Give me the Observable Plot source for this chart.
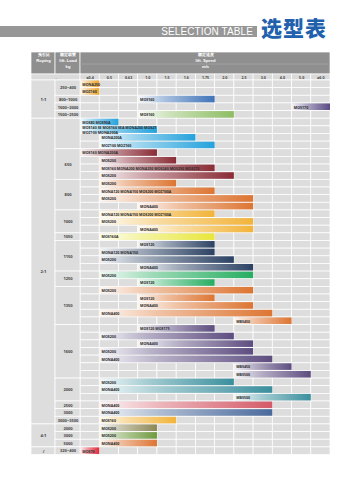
<!DOCTYPE html>
<html><head><meta charset="utf-8">
<script src="https://cdn.jsdelivr.net/npm/d3@7"></script>
<script src="https://cdn.jsdelivr.net/npm/@observablehq/plot@0.6"></script>
<style>
body{margin:0;background:#fff;font-family:"Liberation Sans",Arial,sans-serif;}
#wrap{position:relative;width:353px;height:480px;overflow:hidden;}
#band{position:absolute;left:0;top:26px;width:257px;height:11px;background:#979797;color:#fff;font-size:10px;line-height:11px;text-align:right;box-sizing:border-box;padding-right:4px;letter-spacing:0.1px;}
#cn{position:absolute;left:261px;top:15px;font-family:"Noto Sans CJK SC",sans-serif;font-weight:900;font-size:21px;line-height:24px;color:#2160ad;letter-spacing:1px;}
#chart{position:absolute;left:0;top:0;}
</style></head>
<body><div id="wrap">
<div id="chart"></div>
<div id="band">SELECTION TABLE</div>
<div id="cn">选型表</div>
</div>
<script>
const speeds = ["≤0.4","0.5","0.63","1.0","1.5","1.6","1.75","2.0","2.5","3.0","4.0","5.0","≥6.0"];
const ropings = ["1:1","1:1","1:1","1:1","1:1",
  "2:1","2:1","2:1","2:1","2:1","2:1","2:1","2:1","2:1","2:1","2:1","2:1","2:1","2:1","2:1","2:1","2:1","2:1","2:1","2:1","2:1","2:1","2:1","2:1","2:1","2:1","2:1","2:1","2:1","2:1","2:1","2:1","2:1","2:1","2:1","2:1","2:1","2:1","2:1","2:1",
  "4:1","4:1","4:1","/"];
const loads = ["250~400","250~400","800~1000","1000~2000","1500~2500",
  "","","","",
  "650","650","650","650",
  "800","800","800","800",
  "1000","1000","1000",
  "1050",
  "1150","1150","1150","1150",
  "1250","1250",
  "1350","1350","1350","1350","1350",
  "1600","1600","1600","1600","1600","1600","1600",
  "2000","2000","2000",
  "2500","3000","3000~3500",
  "2000","3000","5000","320~400"];
const models = ["MONA250","MOZ160","MOS160","MOS170","MOS160",
  "MOS80 MOS90A","MOS140 SE MOS160 SEA MONA200 MOS2T\nMOZ100 MONA200A","MONA200A","MOZ100 MOZ160",
  "MOS160 MONA200A","MOS200","MOS160 MONA200 MONA250 MOS240 MOS250 MOS270","MOS200",
  "MOS200","MONA120 MONA150 MOS200 MOZ100A","MOS200","MONA400",
  "MONA120 MONA150 MOS200 MOZ100A","MOS200","MONA400",
  "MOS160A",
  "MOS120","MONA120 MONA150","MOS200","MONA400",
  "MOS200","MOS120",
  "MOS200","MOS120","MONA400","MONA400","MBS450",
  "MOS120 MOS175","MOS200","MONA400","MOS200","MONA400","MBS450","MBS500",
  "MOS200","MONA400","MBS500",
  "MONA400","MONA400","MOS160",
  "MOS200","MOS200","MONA400","MOS70"];
const fromSpeed = ["≤0.4","≤0.4","1.0","5.0","1.0",
  "≤0.4","≤0.4","0.5","0.5",
  "≤0.4","0.5","0.5","0.5",
  "0.5","0.5","0.5","1.0",
  "0.5","0.5","1.0",
  "0.5",
  "1.0","0.5","0.5","1.0",
  "0.5","1.0",
  "0.5","1.0","1.0","0.5","2.5",
  "1.0","0.5","1.0","0.5","0.5","2.5","2.5",
  "0.5","0.5","2.5",
  "0.5","0.5","0.5",
  "0.5","0.5","0.5","≤0.4"];
const toSpeed = ["≤0.4","≤0.4","1.75","≥6.0","2.0",
  "0.5","1.0","1.6","1.75",
  "1.0","1.5","1.75","2.0",
  "1.5","1.75","2.5","2.5",
  "1.75","2.5","2.5",
  "1.75",
  "1.75","1.75","2.0","2.5",
  "2.5","1.75",
  "2.5","1.75","2.5","3.0","4.0",
  "1.75","2.0","2.5","2.5","3.0","4.0","5.0",
  "2.0","3.0","5.0",
  "3.0","3.0","1.5",
  "1.0","1.0","1.0","≤0.4"];
const series = ["amber","amber","blue","purple","lime",
  "sky","sky","sky","sky",
  "maroon","maroon","maroon","maroon",
  "orange","orange","orange","orange",
  "gold","gold","gold",
  "yellow",
  "navy","navy","navy","navy",
  "green","green",
  "orange","orange","orange","orange","orange",
  "violet","violet","violet","violet","violet","violet","violet",
  "teal","teal","teal",
  "rose","steel","gold",
  "olive","grass","orange","red"];
const palette = {amber:"#f0a42c",blue:"#3f73b8",purple:"#5a4a84",lime:"#8cbd62",sky:"#25a2dc",
  maroon:"#8a2c36",orange:"#dd7532",gold:"#f2b43a",yellow:"#e8e63a",navy:"#2c4163",green:"#25ad60",
  violet:"#5d4d80",teal:"#3a8f9d",rose:"#d45a68",steel:"#4a6a9c",olive:"#8c8757",grass:"#6f9a3d",red:"#e0293a"};

const rows = models.map((m, i) => ({
  i, model: m, key: series[i],
  x1: speeds.indexOf(fromSpeed[i]), x2: speeds.indexOf(toSpeed[i]) + 1
}));
function spans(arr, keyArr) {
  const out = [];
  arr.forEach((v, i) => {
    const k = keyArr ? keyArr[i] + "|" + v : v;
    const last = out[out.length - 1];
    if (last && last.k === k) last.y2 = i + 1;
    else out.push({k, label: v, y1: i, y2: i + 1});
  });
  return out;
}
const ropingSpans = spans(ropings);
const loadSpans = spans(loads, ropings);
const cells = [];
rows.forEach(r => speeds.forEach((s, c) => cells.push({y: r.i, c})));
const speedCells = speeds.map((s, c) => ({c, s}));

const XR0 = -2.55, XR1 = -1.3, XL1 = 0, XE = speeds.length;
const H0 = -3.66, H1 = -0.78;
const hRows = [H0 + 0.34, H0 + 0.34 + 0.78, H0 + 0.34 + 1.56];

const defs = () => {
  const d = d3.create("svg:defs");
  for (const [k, c] of Object.entries(palette)) {
    const g = d.append("linearGradient").attr("id", "g-" + k);
    g.append("stop").attr("offset", "0%").attr("stop-color", d3.interpolateRgb("#ffffff", c)(0.06));
    g.append("stop").attr("offset", "35%").attr("stop-color", d3.interpolateRgb("#ffffff", c)(0.45));
    g.append("stop").attr("offset", "100%").attr("stop-color", c);
  }
  return d.node();
};

const hdrTxt = {fill: "white", fontWeight: "bold", fontSize: 4.2, fontFamily: "Liberation Sans, Arial, sans-serif"};
const plot = Plot.plot({
  width: 353, height: 480,
  marginLeft: 31, marginRight: 23, marginTop: 52, marginBottom: 25.5,
  x: {domain: [XR0, XE], axis: null},
  y: {domain: [H0, rows.length], reverse: true, axis: null},
  color: {type: "identity"},
  style: {background: "transparent"},
  marks: [
    defs,
    // header dark block
    Plot.rect([{a: XR0, b: XR1}, {a: XR1, b: XL1}, {a: XL1, b: XE}], {x1: "a", x2: "b", y1: H0, y2: H1, fill: "#8f8f8f", stroke: "white", strokeWidth: 0.7}),
    // light speed label row
    Plot.rect([{a: XR0, b: XL1}], {x1: "a", x2: "b", y1: H1, y2: 0, fill: "#dadada", stroke: "white", strokeWidth: 0.7}),
    Plot.rect(speedCells, {x1: "c", x2: d => d.c + 1, y1: H1, y2: 0, fill: "#dadada", stroke: "white", strokeWidth: 0.7}),
    Plot.text(speedCells, {x: d => d.c + 0.5, y: H1 / 2, text: "s", fontSize: 3.6, fill: "#444", fontWeight: "bold"}),
    Plot.text(["-"], {x: (XR0 + XL1) / 2, y: H1 / 2, text: d => d, fontSize: 4, fill: "#444"}),
    // header labels
    Plot.text(["曳引比", "Roping"], {x: (XR0 + XR1) / 2, y: (d, i) => hRows[i], text: d => d, ...hdrTxt}),
    Plot.text(["额定载重", "lift. Load", "kg"], {x: (XR1 + XL1) / 2, y: (d, i) => hRows[i], text: d => d, ...hdrTxt}),
    Plot.text(["额定速度", "lift. Speed", "m/s"], {x: XE / 2, y: (d, i) => hRows[i], text: d => d, ...hdrTxt}),
    Plot.ruleY([H0 + 0.78 * 1.5 + 0.34 - 0.39 + 0.39, H0 + 0.34 + 1.17], {x1: XL1, x2: XE, stroke: "#a4a4a4", strokeWidth: 0.5}),
    // body grid
    Plot.rect(cells, {x1: "c", x2: d => d.c + 1, y1: "y", y2: d => d.y + 1, fill: "#dddddd", stroke: "white", strokeWidth: 0.75}),
    Plot.rect(ropingSpans, {x1: XR0, x2: XR1, y1: "y1", y2: "y2", fill: "#dddddd", stroke: "white", strokeWidth: 0.75}),
    Plot.rect(loadSpans, {x1: XR1, x2: XL1, y1: "y1", y2: "y2", fill: "#dddddd", stroke: "white", strokeWidth: 0.75}),
    Plot.text(ropingSpans, {x: (XR0 + XR1) / 2, y: d => (d.y1 + d.y2) / 2, text: "label", fontSize: 4.2, fill: "#444", fontWeight: "bold"}),
    Plot.text(loadSpans, {x: (XR1 + XL1) / 2, y: d => (d.y1 + d.y2) / 2, text: "label", fontSize: 4, fill: "#444", fontWeight: "bold"}),
    // bars
    Plot.rect(rows, {x1: "x1", x2: "x2", y1: "i", y2: d => d.i + 1, insetTop: 0.55, insetBottom: 0.55, fill: d => `url(#g-${d.key})`}),
    Plot.text(rows, {x: "x1", y: d => d.i + 0.5, dx: 1.8, text: "model", textAnchor: "start", fontSize: d => 3.6, lineHeight: 1.15, fill: "#2a2a2a", fontWeight: "bold"})
  ]
});
document.getElementById("chart").append(plot);
</script>
</body></html>
